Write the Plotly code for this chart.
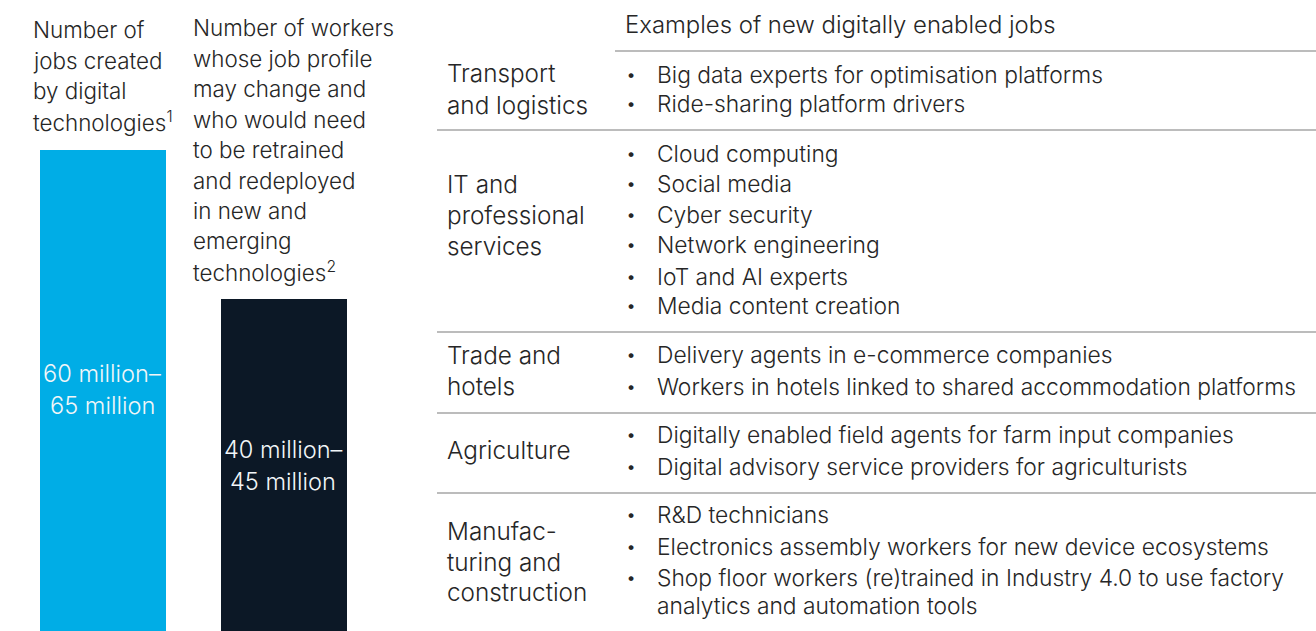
import plotly.graph_objects as go

# ---------------- data ----------------
bar_categories = ["Jobs created", "Workers to retrain"]
bar_values = [65, 45]  # upper bound, million
bar_labels = [["60 million–", "65 million"], ["40 million–", "45 million"]]
bar_colors = ["#00ADE6", "#0C1826"]
bar_headers = [
    ["Number of", "jobs created", "by digital", "technologies<sup>1</sup>"],
    ["Number of workers", "whose job profile", "may change and", "who would need",
     "to be retrained", "and redeployed", "in new and", "emerging", "technologies<sup>2</sup>"],
]

table_header = "Examples of new digitally enabled jobs"
sectors = [
    ["Transport", "and logistics"],
    ["IT and", "professional", "services"],
    ["Trade and", "hotels"],
    ["Agriculture"],
    ["Manufac-", "turing and", "construction"],
]
examples = [
    ["Big data experts for optimisation platforms", "Ride-sharing platform drivers"],
    ["Cloud computing", "Social media", "Cyber security", "Network engineering",
     "IoT and AI experts", "Media content creation"],
    ["Delivery agents in e-commerce companies",
     "Workers in hotels linked to shared accommodation platforms"],
    ["Digitally enabled field agents for farm input companies",
     "Digital advisory service providers for agriculturists"],
    ["R&D technicians", "Electronics assembly workers for new device ecosystems",
     ["Shop floor workers (re)trained in Industry 4.0 to use factory",
      "analytics and automation tools"]],
]

# ---------------- layout (pixel geometry) ----------------
W, H = 1316, 631
FONT = "Inter"
FS = 22.8
TXT = "#262626"
LINE = "#A6A6A6"


def px(x):
    return x / W


def py(y):
    return 1 - y / H


fig = go.Figure()
fig.add_trace(go.Bar(
    x=bar_categories, y=bar_values, marker=dict(color=bar_colors, line=dict(width=0)),
    width=0.7, hoverinfo="skip", showlegend=False,
))

annotations = []


def text(x, y, s, anchor="left", color=TXT, size=FS, xref="paper", yref="paper"):
    annotations.append(dict(
        x=x, y=y, xref=xref, yref=yref, text=s, showarrow=False,
        xanchor=anchor, yanchor="middle", align=anchor,
        font=dict(family=FONT, size=size, color=color, weight=300),
    ))


# bar headers
header_x = [31, 191]
header_y0 = [30, 28]
for hx, hy0, lines in zip(header_x, header_y0, bar_headers):
    for i, s in enumerate(lines):
        text(px(hx), py(hy0 + i * 30.4), s, size=22.4)

# bar value labels (centered in visible bar area)
label_y = [[373, 405], [449, 481]]
bar_cx = [102.5, 283]
for cx, ys, lab in zip(bar_cx, label_y, bar_labels):
    for y, s in zip(ys, lab):
        text(px(cx), py(y), s, anchor="center", color="#F2F6F8", size=23.6)

# table header
text(px(623), py(24), table_header, size=23.9)

sector_y = [[73, 105], [184, 215, 246], [355, 386], [450], [531, 562, 592]]
example_y = [[74, 104], [153, 184, 214, 244, 276, 305], [354, 386], [434, 466],
             [514, 546, [577, 605]]]
for s_lines, s_ys in zip(sectors, sector_y):
    for s, y in zip(s_lines, s_ys):
        text(px(445), py(y), s, size=24.3)
for items, ys in zip(examples, example_y):
    for it, y in zip(items, ys):
        if isinstance(it, list):
            text(px(624), py(y[0]), "•", size=18)
            for s, yy in zip(it, y):
                text(px(655), py(yy), s)
        else:
            text(px(624), py(y), "•", size=18)
            text(px(655), py(y), it)

shapes = []
sep_lines = [(615, 51), (437, 130), (437, 332), (437, 413), (437, 493)]
for x0, y in sep_lines:
    shapes.append(dict(type="line", xref="paper", yref="paper",
                       x0=px(x0), x1=1, y0=py(y), y1=py(y),
                       line=dict(color=LINE, width=1.6)))

# y axis: baseline slightly below bottom edge
ppu = (299 - 150) / (bar_values[0] - bar_values[1])
base = 150 + bar_values[0] * ppu
y_lo = (base - H) / ppu
y_hi = bar_values[0] + 150 / ppu

fig.update_layout(
    width=W, height=H, margin=dict(l=0, r=0, t=0, b=0),
    paper_bgcolor="white", plot_bgcolor="white",
    xaxis=dict(domain=[px(12.75), px(373.75)], range=[-0.5, 1.5], visible=False,
               fixedrange=True),
    yaxis=dict(domain=[0, 1], range=[y_lo, y_hi], visible=False, fixedrange=True),
    annotations=annotations, shapes=shapes, showlegend=False, bargap=0,
)

fig.write_html(
    "out.html",
    config={"displayModeBar": False},
    post_script="document.body.style.margin='0';document.body.style.overflow='hidden';",
)
